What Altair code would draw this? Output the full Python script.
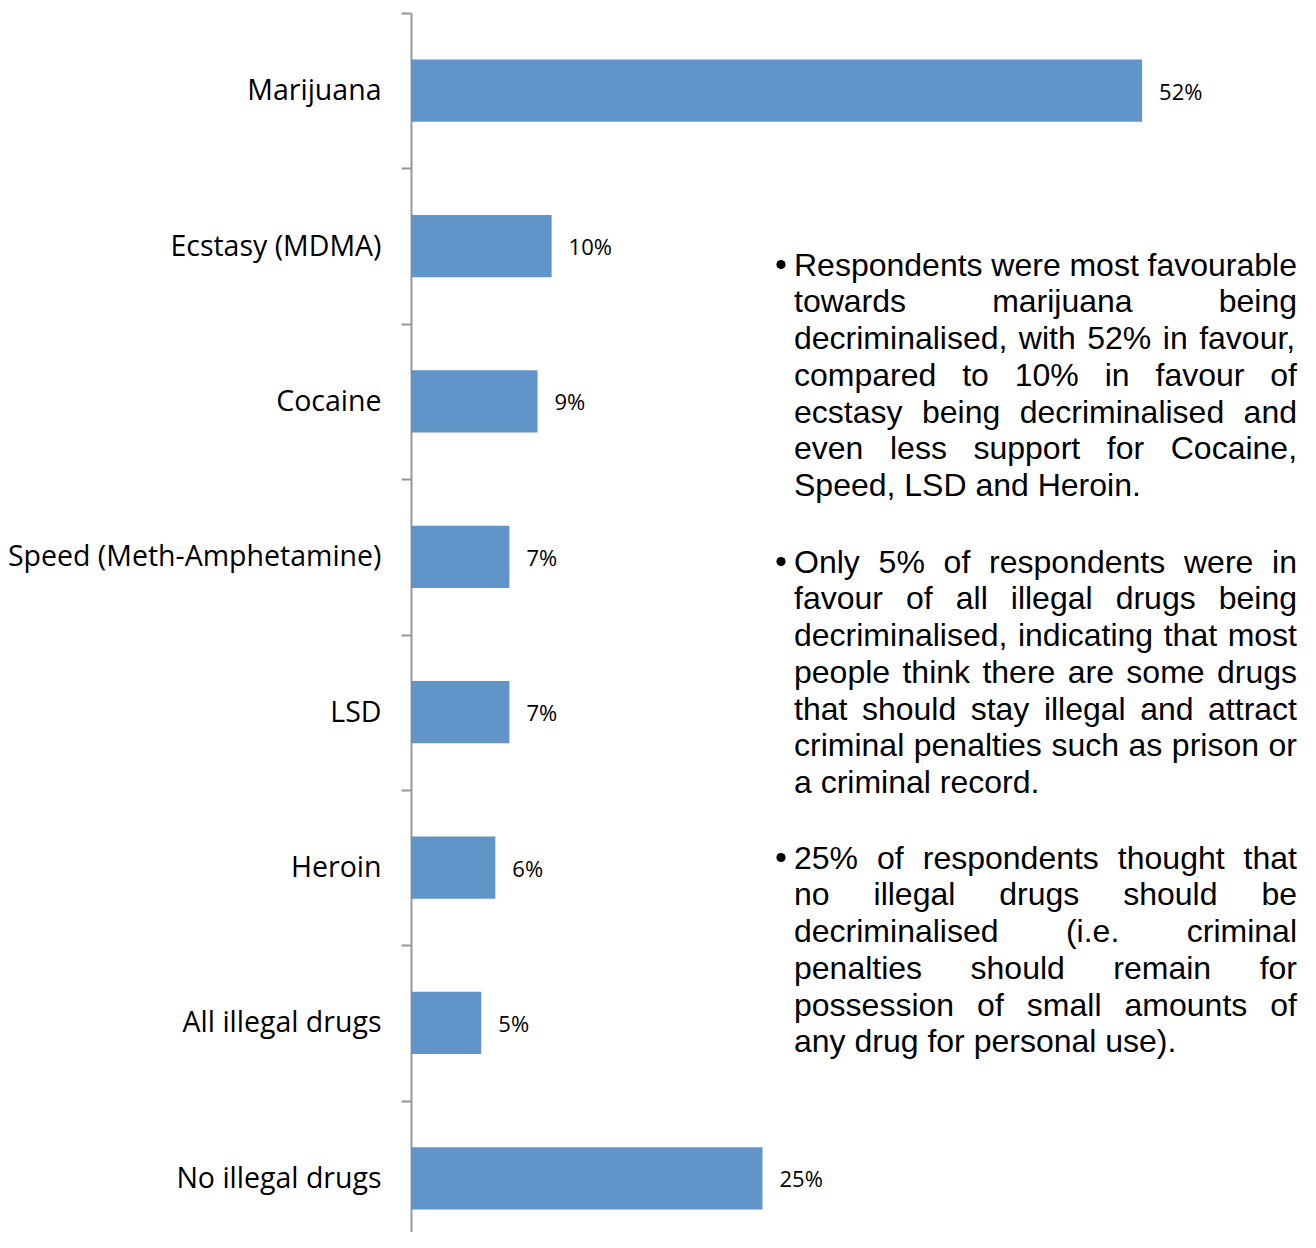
import altair as alt
import pandas as pd

# ---- data ----
categories = ["Marijuana", "Ecstasy (MDMA)", "Cocaine", "Speed (Meth-Amphetamine)",
              "LSD", "Heroin", "All illegal drugs", "No illegal drugs"]
values = [52, 10, 9, 7, 7, 6, 5, 25]

paragraphs = [
    ["Respondents were most favourable",
     "towards marijuana being",
     "decriminalised, with 52% in favour,",
     "compared to 10% in favour of",
     "ecstasy being decriminalised and",
     "even less support for Cocaine,",
     "Speed, LSD and Heroin."],
    ["Only 5% of respondents were in",
     "favour of all illegal drugs being",
     "decriminalised, indicating that most",
     "people think there are some drugs",
     "that should stay illegal and attract",
     "criminal penalties such as prison or",
     "a criminal record."],
    ["25% of respondents thought that",
     "no illegal drugs should be",
     "decriminalised (i.e. criminal",
     "penalties should remain for",
     "possession of small amounts of",
     "any drug for personal use)."],
]

# ---- layout constants (pixels) ----
PLOT_LEFT, PLOT_TOP = 411, 13
BAND_TOTAL = 1243
PX_PER_PCT = 14.06
WIDTH, HEIGHT = 890, 1219
BAR_COLOR = "#6194C8"
AXIS_GRAY = "#979797"

TXT_FONT = "Liberation Sans"
TXT_SIZE = 32
TXT_LEFT, TXT_RIGHT = 794, 1297
LINE_H = 36.75
PARA_BASELINES = [275.5, 572.5, 868.5]
BULLET_X = 781
BULLET_DY = -11

# Arial/Helvetica advance widths (1/1000 em) for justification
W = {' ': 278, ',': 278, '.': 278, '%': 889, '(': 333, ')': 333, '-': 333,
     '0': 556, '1': 556, '2': 556, '3': 556, '4': 556, '5': 556, '6': 556,
     '7': 556, '8': 556, '9': 556,
     'a': 556, 'b': 556, 'c': 500, 'd': 556, 'e': 556, 'f': 278, 'g': 556,
     'h': 556, 'i': 222, 'j': 222, 'k': 500, 'l': 222, 'm': 833, 'n': 556,
     'o': 556, 'p': 556, 'q': 556, 'r': 333, 's': 500, 't': 278, 'u': 556,
     'v': 500, 'w': 722, 'x': 500, 'y': 500, 'z': 500,
     'A': 667, 'B': 667, 'C': 722, 'D': 722, 'E': 667, 'F': 611, 'G': 778,
     'H': 722, 'I': 278, 'J': 500, 'K': 667, 'L': 556, 'M': 833, 'N': 722,
     'O': 778, 'P': 667, 'Q': 778, 'R': 722, 'S': 667, 'T': 611, 'U': 722,
     'V': 667, 'W': 944, 'X': 667, 'Y': 667, 'Z': 611}


def tw(s):
    return sum(W.get(c, 556) for c in s) * TXT_SIZE / 1000.0


words = []
bullets = []
for p, lines in enumerate(paragraphs):
    base = PARA_BASELINES[p]
    bullets.append({"px": BULLET_X - PLOT_LEFT, "py": base + BULLET_DY - PLOT_TOP})
    for i, line in enumerate(lines):
        y = base + i * LINE_H - PLOT_TOP
        ws = line.split(" ")
        last = i == len(lines) - 1
        if last or len(ws) == 1:
            gap = tw(" ")
        else:
            gap = (TXT_RIGHT - TXT_LEFT - sum(tw(w) for w in ws)) / (len(ws) - 1)
        x = TXT_LEFT
        for w in ws:
            words.append({"t": w, "px": x - PLOT_LEFT, "py": y})
            x += tw(w) + gap

df = pd.DataFrame({"cat": categories, "val": values})
wdf = pd.DataFrame(words)
bdf = pd.DataFrame(bullets)

y_enc = alt.Y("cat:N", sort=categories, title=None,
              scale=alt.Scale(range=[0, BAND_TOTAL], paddingInner=0, paddingOuter=0),
              axis=alt.Axis(tickBand="extent", tickSize=10, tickWidth=2,
                            tickColor=AXIS_GRAY, domainColor=AXIS_GRAY, domainWidth=2,
                            labelFont="Open Sans", labelFontSize=28.5, labelColor="#000000",
                            labelPadding=20, labelLimit=600))
x_enc = alt.X("val:Q", scale=alt.Scale(domain=[0, WIDTH / PX_PER_PCT], nice=False),
              axis=None)

bars = alt.Chart(df).mark_bar(color=BAR_COLOR, height=alt.RelativeBandSize(0.4)).encode(
    y=y_enc, x=x_enc)

labels = alt.Chart(df).transform_calculate(lbl="datum.val + '%'").mark_text(
    align="left", baseline="middle", dx=17, dy=2, font="Open Sans", fontSize=22,
    color="#000000"
).encode(y=y_enc, x=x_enc, text="lbl:N")

ann = alt.Chart(wdf).mark_text(
    align="left", baseline="alphabetic", font=TXT_FONT, fontSize=TXT_SIZE, color="#000000"
).encode(x=alt.X("px:Q", scale=None, axis=None),
         y=alt.Y("py:Q", scale=None, axis=None),
         text="t:N")

bul = alt.Chart(bdf).mark_circle(size=85, color="#000000", opacity=1).encode(
    x=alt.X("px:Q", scale=None, axis=None),
    y=alt.Y("py:Q", scale=None, axis=None))

chart = alt.layer(bars, labels, ann, bul).properties(
    width=WIDTH, height=HEIGHT,
    autosize=alt.AutoSizeParams(type="none"),
    padding={"left": PLOT_LEFT - 8, "top": PLOT_TOP - 8, "right": 0, "bottom": 0},
).configure_view(stroke=None)

chart.save("out.html", embed_options={"renderer": "svg", "actions": False})
